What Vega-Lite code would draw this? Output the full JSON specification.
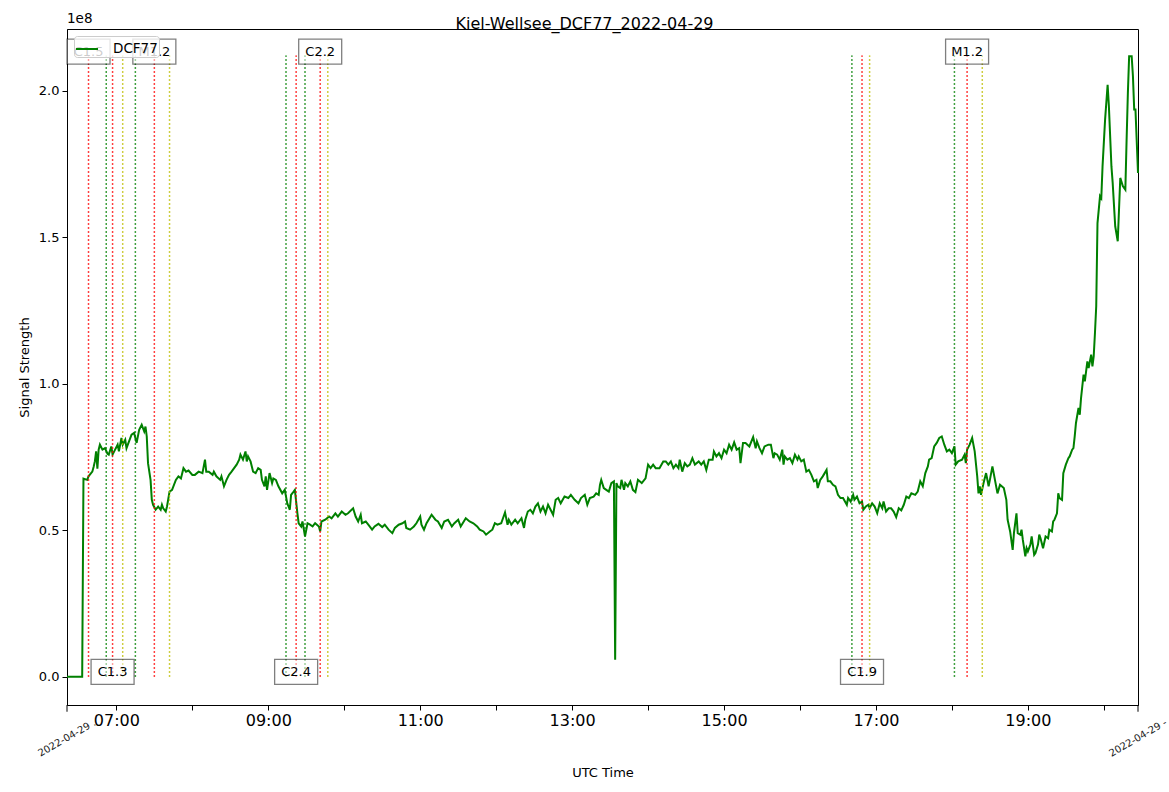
{
  "$schema": "https://vega.github.io/schema/vega-lite/v6.json",
  "width": 1071,
  "height": 676,
  "autosize": "none",
  "padding": {"left": 67, "top": 29, "right": 31, "bottom": 87},
  "background": "white",
  "config": {
    "font": "DejaVu Sans",
    "view": {"stroke": "black", "strokeWidth": 1},
    "axis": {"domainColor": "black", "tickColor": "black", "labelColor": "black", "titleColor": "black", "grid": false, "titleFontWeight": "normal"}
  },
  "title": {"text": "Kiel-Wellsee_DCF77_2022-04-29", "fontSize": 16, "fontWeight": "normal", "anchor": "middle", "offset": -20, "dx": -18, "color": "black"},
  "datasets": {
    "signal": [
      {"t": "06:21", "v": 0}, {"t": "06:33", "v": 0}, {"t": "06:34", "v": 0.676}, {"t": "06:37", "v": 0.672},
      {"t": "06:38", "v": 0.684}, {"t": "06:41", "v": 0.70}, {"t": "06:42", "v": 0.716}, {"t": "06:43", "v": 0.735},
      {"t": "06:44", "v": 0.769}, {"t": "06:45", "v": 0.71}, {"t": "06:46", "v": 0.775}, {"t": "06:47", "v": 0.792},
      {"t": "06:49", "v": 0.775}, {"t": "06:51", "v": 0.78}, {"t": "06:53", "v": 0.761}, {"t": "06:54", "v": 0.758},
      {"t": "06:56", "v": 0.786}, {"t": "06:57", "v": 0.758}, {"t": "06:59", "v": 0.775}, {"t": "07:01", "v": 0.792},
      {"t": "07:02", "v": 0.769}, {"t": "07:04", "v": 0.815}, {"t": "07:05", "v": 0.792}, {"t": "07:07", "v": 0.809},
      {"t": "07:08", "v": 0.78}, {"t": "07:10", "v": 0.803}, {"t": "07:12", "v": 0.826}, {"t": "07:14", "v": 0.832},
      {"t": "07:16", "v": 0.798}, {"t": "07:18", "v": 0.843}, {"t": "07:20", "v": 0.86}, {"t": "07:22", "v": 0.837},
      {"t": "07:23", "v": 0.854}, {"t": "07:24", "v": 0.82}, {"t": "07:25", "v": 0.729}, {"t": "07:27", "v": 0.672},
      {"t": "07:28", "v": 0.604}, {"t": "07:29", "v": 0.587}, {"t": "07:31", "v": 0.57}, {"t": "07:33", "v": 0.581},
      {"t": "07:35", "v": 0.57}, {"t": "07:36", "v": 0.587}, {"t": "07:37", "v": 0.575}, {"t": "07:39", "v": 0.564},
      {"t": "07:40", "v": 0.581}, {"t": "07:42", "v": 0.632}, {"t": "07:44", "v": 0.638}, {"t": "07:47", "v": 0.672},
      {"t": "07:49", "v": 0.684}, {"t": "07:51", "v": 0.677}, {"t": "07:53", "v": 0.712}, {"t": "07:55", "v": 0.70},
      {"t": "07:57", "v": 0.704}, {"t": "08:00", "v": 0.689}, {"t": "08:02", "v": 0.689}, {"t": "08:05", "v": 0.70},
      {"t": "08:08", "v": 0.695}, {"t": "08:10", "v": 0.741}, {"t": "08:11", "v": 0.70}, {"t": "08:13", "v": 0.70},
      {"t": "08:16", "v": 0.689}, {"t": "08:17", "v": 0.70}, {"t": "08:19", "v": 0.684}, {"t": "08:22", "v": 0.672},
      {"t": "08:23", "v": 0.684}, {"t": "08:25", "v": 0.65}, {"t": "08:27", "v": 0.672}, {"t": "08:29", "v": 0.689},
      {"t": "08:31", "v": 0.70}, {"t": "08:33", "v": 0.712}, {"t": "08:35", "v": 0.724}, {"t": "08:37", "v": 0.741},
      {"t": "08:38", "v": 0.758}, {"t": "08:40", "v": 0.741}, {"t": "08:42", "v": 0.769}, {"t": "08:43", "v": 0.735},
      {"t": "08:44", "v": 0.752}, {"t": "08:46", "v": 0.735}, {"t": "08:48", "v": 0.70}, {"t": "08:50", "v": 0.695},
      {"t": "08:52", "v": 0.712}, {"t": "08:54", "v": 0.706}, {"t": "08:55", "v": 0.672}, {"t": "08:57", "v": 0.65},
      {"t": "08:58", "v": 0.684}, {"t": "08:59", "v": 0.638}, {"t": "09:01", "v": 0.695}, {"t": "09:03", "v": 0.661},
      {"t": "09:04", "v": 0.677}, {"t": "09:06", "v": 0.672}, {"t": "09:08", "v": 0.65}, {"t": "09:11", "v": 0.626},
      {"t": "09:13", "v": 0.638}, {"t": "09:15", "v": 0.592}, {"t": "09:17", "v": 0.57}, {"t": "09:18", "v": 0.621},
      {"t": "09:20", "v": 0.632}, {"t": "09:21", "v": 0.638}, {"t": "09:23", "v": 0.558}, {"t": "09:24", "v": 0.524},
      {"t": "09:26", "v": 0.513}, {"t": "09:27", "v": 0.53}, {"t": "09:29", "v": 0.479}, {"t": "09:31", "v": 0.524},
      {"t": "09:33", "v": 0.519}, {"t": "09:35", "v": 0.513}, {"t": "09:37", "v": 0.524}, {"t": "09:40", "v": 0.513},
      {"t": "09:41", "v": 0.496}, {"t": "09:42", "v": 0.53}, {"t": "09:45", "v": 0.536}, {"t": "09:48", "v": 0.547},
      {"t": "09:50", "v": 0.541}, {"t": "09:53", "v": 0.558}, {"t": "09:55", "v": 0.547}, {"t": "09:58", "v": 0.564},
      {"t": "10:01", "v": 0.553}, {"t": "10:03", "v": 0.558}, {"t": "10:07", "v": 0.575}, {"t": "10:09", "v": 0.547},
      {"t": "10:11", "v": 0.53}, {"t": "10:13", "v": 0.553}, {"t": "10:14", "v": 0.524}, {"t": "10:17", "v": 0.53},
      {"t": "10:19", "v": 0.519}, {"t": "10:22", "v": 0.502}, {"t": "10:24", "v": 0.513}, {"t": "10:27", "v": 0.522},
      {"t": "10:30", "v": 0.511}, {"t": "10:32", "v": 0.519}, {"t": "10:35", "v": 0.502}, {"t": "10:38", "v": 0.49},
      {"t": "10:40", "v": 0.508}, {"t": "10:43", "v": 0.519}, {"t": "10:46", "v": 0.524}, {"t": "10:48", "v": 0.53},
      {"t": "10:49", "v": 0.508}, {"t": "10:52", "v": 0.502}, {"t": "10:55", "v": 0.513}, {"t": "10:57", "v": 0.524},
      {"t": "11:00", "v": 0.547}, {"t": "11:01", "v": 0.519}, {"t": "11:03", "v": 0.502}, {"t": "11:05", "v": 0.524},
      {"t": "11:09", "v": 0.553}, {"t": "11:12", "v": 0.536}, {"t": "11:14", "v": 0.53}, {"t": "11:17", "v": 0.508},
      {"t": "11:19", "v": 0.53}, {"t": "11:22", "v": 0.536}, {"t": "11:25", "v": 0.513}, {"t": "11:27", "v": 0.524},
      {"t": "11:30", "v": 0.536}, {"t": "11:32", "v": 0.513}, {"t": "11:36", "v": 0.541}, {"t": "11:39", "v": 0.53},
      {"t": "11:42", "v": 0.524}, {"t": "11:45", "v": 0.513}, {"t": "11:47", "v": 0.502}, {"t": "11:50", "v": 0.496},
      {"t": "11:52", "v": 0.485}, {"t": "11:55", "v": 0.496}, {"t": "11:57", "v": 0.502}, {"t": "11:59", "v": 0.524},
      {"t": "12:01", "v": 0.519}, {"t": "12:04", "v": 0.524}, {"t": "12:07", "v": 0.561}, {"t": "12:09", "v": 0.519},
      {"t": "12:10", "v": 0.536}, {"t": "12:12", "v": 0.519}, {"t": "12:15", "v": 0.536}, {"t": "12:17", "v": 0.524},
      {"t": "12:20", "v": 0.541}, {"t": "12:22", "v": 0.508}, {"t": "12:23", "v": 0.536}, {"t": "12:25", "v": 0.564},
      {"t": "12:27", "v": 0.57}, {"t": "12:29", "v": 0.558}, {"t": "12:31", "v": 0.581}, {"t": "12:33", "v": 0.592},
      {"t": "12:35", "v": 0.564}, {"t": "12:37", "v": 0.581}, {"t": "12:39", "v": 0.558}, {"t": "12:41", "v": 0.587},
      {"t": "12:43", "v": 0.57}, {"t": "12:45", "v": 0.553}, {"t": "12:47", "v": 0.604}, {"t": "12:49", "v": 0.61},
      {"t": "12:51", "v": 0.592}, {"t": "12:54", "v": 0.615}, {"t": "12:57", "v": 0.61}, {"t": "12:59", "v": 0.621},
      {"t": "13:02", "v": 0.604}, {"t": "13:05", "v": 0.592}, {"t": "13:07", "v": 0.61}, {"t": "13:10", "v": 0.621},
      {"t": "13:12", "v": 0.587}, {"t": "13:14", "v": 0.61}, {"t": "13:17", "v": 0.615}, {"t": "13:19", "v": 0.626},
      {"t": "13:21", "v": 0.621}, {"t": "13:22", "v": 0.655}, {"t": "13:23", "v": 0.672}, {"t": "13:25", "v": 0.644},
      {"t": "13:27", "v": 0.638}, {"t": "13:29", "v": 0.632}, {"t": "13:31", "v": 0.661}, {"t": "13:33", "v": 0.667},
      {"t": "13:34", "v": 0.058}, {"t": "13:35", "v": 0.661}, {"t": "13:36", "v": 0.65}, {"t": "13:38", "v": 0.644},
      {"t": "13:39", "v": 0.672}, {"t": "13:41", "v": 0.638}, {"t": "13:42", "v": 0.661}, {"t": "13:44", "v": 0.65},
      {"t": "13:46", "v": 0.667}, {"t": "13:48", "v": 0.638}, {"t": "13:50", "v": 0.63}, {"t": "13:52", "v": 0.672},
      {"t": "13:55", "v": 0.661}, {"t": "13:58", "v": 0.677}, {"t": "14:00", "v": 0.724}, {"t": "14:02", "v": 0.712},
      {"t": "14:04", "v": 0.724}, {"t": "14:06", "v": 0.712}, {"t": "14:09", "v": 0.712}, {"t": "14:12", "v": 0.735},
      {"t": "14:14", "v": 0.735}, {"t": "14:16", "v": 0.724}, {"t": "14:18", "v": 0.735}, {"t": "14:20", "v": 0.712},
      {"t": "14:22", "v": 0.724}, {"t": "14:24", "v": 0.712}, {"t": "14:25", "v": 0.741}, {"t": "14:27", "v": 0.70},
      {"t": "14:29", "v": 0.729}, {"t": "14:31", "v": 0.718}, {"t": "14:33", "v": 0.724}, {"t": "14:35", "v": 0.746},
      {"t": "14:37", "v": 0.724}, {"t": "14:40", "v": 0.735}, {"t": "14:42", "v": 0.724}, {"t": "14:44", "v": 0.735},
      {"t": "14:46", "v": 0.706}, {"t": "14:48", "v": 0.741}, {"t": "14:51", "v": 0.741}, {"t": "14:52", "v": 0.769},
      {"t": "14:54", "v": 0.752}, {"t": "14:56", "v": 0.763}, {"t": "14:58", "v": 0.746}, {"t": "15:00", "v": 0.775},
      {"t": "15:02", "v": 0.763}, {"t": "15:04", "v": 0.792}, {"t": "15:06", "v": 0.775}, {"t": "15:08", "v": 0.80},
      {"t": "15:10", "v": 0.775}, {"t": "15:12", "v": 0.78}, {"t": "15:13", "v": 0.729}, {"t": "15:15", "v": 0.798},
      {"t": "15:17", "v": 0.798}, {"t": "15:20", "v": 0.786}, {"t": "15:23", "v": 0.818}, {"t": "15:25", "v": 0.78},
      {"t": "15:26", "v": 0.803}, {"t": "15:28", "v": 0.78}, {"t": "15:30", "v": 0.763}, {"t": "15:32", "v": 0.786},
      {"t": "15:35", "v": 0.792}, {"t": "15:37", "v": 0.792}, {"t": "15:39", "v": 0.746}, {"t": "15:40", "v": 0.763},
      {"t": "15:42", "v": 0.758}, {"t": "15:44", "v": 0.741}, {"t": "15:46", "v": 0.775}, {"t": "15:47", "v": 0.724},
      {"t": "15:48", "v": 0.752}, {"t": "15:50", "v": 0.741}, {"t": "15:52", "v": 0.746}, {"t": "15:54", "v": 0.729},
      {"t": "15:56", "v": 0.758}, {"t": "15:58", "v": 0.741}, {"t": "15:59", "v": 0.752}, {"t": "16:01", "v": 0.735},
      {"t": "16:03", "v": 0.741}, {"t": "16:05", "v": 0.70}, {"t": "16:07", "v": 0.706}, {"t": "16:09", "v": 0.689},
      {"t": "16:11", "v": 0.667}, {"t": "16:13", "v": 0.672}, {"t": "16:14", "v": 0.644}, {"t": "16:16", "v": 0.672},
      {"t": "16:18", "v": 0.684}, {"t": "16:21", "v": 0.706}, {"t": "16:22", "v": 0.667}, {"t": "16:24", "v": 0.667},
      {"t": "16:26", "v": 0.655}, {"t": "16:28", "v": 0.65}, {"t": "16:30", "v": 0.621}, {"t": "16:32", "v": 0.61},
      {"t": "16:34", "v": 0.61}, {"t": "16:37", "v": 0.587}, {"t": "16:38", "v": 0.61}, {"t": "16:40", "v": 0.598},
      {"t": "16:42", "v": 0.621}, {"t": "16:43", "v": 0.604}, {"t": "16:45", "v": 0.615}, {"t": "16:47", "v": 0.592},
      {"t": "16:49", "v": 0.598}, {"t": "16:50", "v": 0.57}, {"t": "16:52", "v": 0.581}, {"t": "16:54", "v": 0.587},
      {"t": "16:55", "v": 0.575}, {"t": "16:57", "v": 0.592}, {"t": "16:59", "v": 0.581}, {"t": "17:01", "v": 0.558},
      {"t": "17:03", "v": 0.592}, {"t": "17:05", "v": 0.575}, {"t": "17:06", "v": 0.598}, {"t": "17:08", "v": 0.564},
      {"t": "17:10", "v": 0.575}, {"t": "17:12", "v": 0.575}, {"t": "17:14", "v": 0.564}, {"t": "17:16", "v": 0.545},
      {"t": "17:18", "v": 0.575}, {"t": "17:20", "v": 0.568}, {"t": "17:22", "v": 0.587}, {"t": "17:24", "v": 0.615},
      {"t": "17:26", "v": 0.61}, {"t": "17:28", "v": 0.626}, {"t": "17:31", "v": 0.621}, {"t": "17:33", "v": 0.632},
      {"t": "17:35", "v": 0.667}, {"t": "17:37", "v": 0.65}, {"t": "17:39", "v": 0.695}, {"t": "17:41", "v": 0.718},
      {"t": "17:42", "v": 0.741}, {"t": "17:44", "v": 0.746}, {"t": "17:46", "v": 0.786}, {"t": "17:48", "v": 0.798},
      {"t": "17:50", "v": 0.815}, {"t": "17:52", "v": 0.82}, {"t": "17:54", "v": 0.792}, {"t": "17:56", "v": 0.769},
      {"t": "17:58", "v": 0.775}, {"t": "18:00", "v": 0.763}, {"t": "18:02", "v": 0.786}, {"t": "18:03", "v": 0.724},
      {"t": "18:05", "v": 0.735}, {"t": "18:08", "v": 0.741}, {"t": "18:10", "v": 0.758}, {"t": "18:11", "v": 0.729},
      {"t": "18:12", "v": 0.775}, {"t": "18:14", "v": 0.792}, {"t": "18:16", "v": 0.815}, {"t": "18:18", "v": 0.769},
      {"t": "18:20", "v": 0.684}, {"t": "18:21", "v": 0.626}, {"t": "18:22", "v": 0.65}, {"t": "18:23", "v": 0.621},
      {"t": "18:25", "v": 0.661}, {"t": "18:27", "v": 0.695}, {"t": "18:29", "v": 0.65}, {"t": "18:30", "v": 0.672},
      {"t": "18:32", "v": 0.718}, {"t": "18:34", "v": 0.672}, {"t": "18:36", "v": 0.626}, {"t": "18:38", "v": 0.655},
      {"t": "18:41", "v": 0.644}, {"t": "18:43", "v": 0.604}, {"t": "18:44", "v": 0.536}, {"t": "18:46", "v": 0.496},
      {"t": "18:48", "v": 0.433}, {"t": "18:49", "v": 0.49}, {"t": "18:51", "v": 0.558}, {"t": "18:52", "v": 0.49},
      {"t": "18:54", "v": 0.485}, {"t": "18:55", "v": 0.502}, {"t": "18:56", "v": 0.468}, {"t": "18:58", "v": 0.411},
      {"t": "18:59", "v": 0.439}, {"t": "19:00", "v": 0.428}, {"t": "19:02", "v": 0.451}, {"t": "19:03", "v": 0.479},
      {"t": "19:05", "v": 0.416}, {"t": "19:06", "v": 0.422}, {"t": "19:08", "v": 0.451}, {"t": "19:09", "v": 0.485},
      {"t": "19:10", "v": 0.473}, {"t": "19:12", "v": 0.439}, {"t": "19:14", "v": 0.479}, {"t": "19:16", "v": 0.473},
      {"t": "19:17", "v": 0.502}, {"t": "19:19", "v": 0.496}, {"t": "19:20", "v": 0.53}, {"t": "19:21", "v": 0.536},
      {"t": "19:23", "v": 0.558}, {"t": "19:24", "v": 0.626}, {"t": "19:25", "v": 0.61}, {"t": "19:27", "v": 0.604},
      {"t": "19:28", "v": 0.695}, {"t": "19:30", "v": 0.724}, {"t": "19:32", "v": 0.746}, {"t": "19:33", "v": 0.752},
      {"t": "19:35", "v": 0.775}, {"t": "19:36", "v": 0.78}, {"t": "19:37", "v": 0.82}, {"t": "19:38", "v": 0.866},
      {"t": "19:40", "v": 0.917}, {"t": "19:41", "v": 0.894}, {"t": "19:42", "v": 0.951}, {"t": "19:44", "v": 1.031},
      {"t": "19:45", "v": 1.008}, {"t": "19:47", "v": 1.076}, {"t": "19:48", "v": 1.053}, {"t": "19:50", "v": 1.099},
      {"t": "19:51", "v": 1.059}, {"t": "19:52", "v": 1.093}, {"t": "19:53", "v": 1.173}, {"t": "19:54", "v": 1.264},
      {"t": "19:55", "v": 1.548}, {"t": "19:57", "v": 1.64}, {"t": "19:58", "v": 1.633}, {"t": "19:59", "v": 1.742},
      {"t": "20:01", "v": 1.901}, {"t": "20:03", "v": 2.02}, {"t": "20:04", "v": 1.947}, {"t": "20:06", "v": 1.742},
      {"t": "20:07", "v": 1.685}, {"t": "20:09", "v": 1.537}, {"t": "20:11", "v": 1.486}, {"t": "20:12", "v": 1.594},
      {"t": "20:13", "v": 1.702}, {"t": "20:15", "v": 1.674}, {"t": "20:17", "v": 1.662}, {"t": "20:18", "v": 1.833},
      {"t": "20:19", "v": 1.992}, {"t": "20:20", "v": 2.117}, {"t": "20:22", "v": 2.117}, {"t": "20:23", "v": 2.049},
      {"t": "20:24", "v": 1.935}, {"t": "20:25", "v": 1.935}, {"t": "20:27", "v": 1.719}
    ],
    "flares": [
      {"cls": "C1.5", "kind": "peak", "t": "06:38"},
      {"cls": "C1.3", "kind": "start", "t": "06:52"},
      {"cls": "C1.3", "kind": "peak", "t": "06:57"},
      {"cls": "C1.3", "kind": "end", "t": "07:05"},
      {"cls": "M1.2", "kind": "start", "t": "07:15"},
      {"cls": "M1.2", "kind": "peak", "t": "07:30"},
      {"cls": "M1.2", "kind": "end", "t": "07:42"},
      {"cls": "C2.4", "kind": "start", "t": "09:14"},
      {"cls": "C2.4", "kind": "peak", "t": "09:22"},
      {"cls": "C2.2", "kind": "start", "t": "09:29"},
      {"cls": "C2.2", "kind": "peak", "t": "09:41"},
      {"cls": "C2.2", "kind": "end", "t": "09:47"},
      {"cls": "C1.9", "kind": "start", "t": "16:41"},
      {"cls": "C1.9", "kind": "peak", "t": "16:49"},
      {"cls": "C1.9", "kind": "end", "t": "16:55"},
      {"cls": "M1.2", "kind": "start", "t": "18:02"},
      {"cls": "M1.2", "kind": "peak", "t": "18:12"},
      {"cls": "M1.2", "kind": "end", "t": "18:24"}
    ],
    "note": [{"text": "1e8", "t": "06:21"}],
    "edges": [{"text": "2022-04-29 .", "t": "06:21"}, {"text": "2022-04-29 -", "t": "20:27"}]
  },
  "layer": [
    {
      "data": {"name": "signal", "format": {"parse": {"t": "utc:'%H:%M'"}}},
      "mark": {"type": "line", "strokeWidth": 2},
      "encoding": {
        "x": {
          "field": "t", "type": "temporal",
          "scale": {"type": "utc", "nice": false},
          "axis": {
            "orient": "bottom", "title": "UTC Time", "titleFontSize": 13, "titlePadding": 38,
            "labelFontSize": 16, "labelPadding": 2, "tickSize": 5,
            "tickCount": 14,
            "labelExpr": "utchours(datum.value) % 2 == 1 ? utcFormat(datum.value, '%H:%M') : ''",
            "labelFlush": false, "labelOverlap": false
          }
        },
        "y": {
          "field": "v", "type": "quantitative",
          "scale": {"domain": [-0.096, 2.21], "nice": false, "zero": false},
          "axis": {
            "title": "Signal Strength", "titleFontSize": 13, "titlePadding": 7,
            "values": [0, 0.5, 1, 1.5, 2], "format": ".1f",
            "labelFontSize": 13, "tickSize": 5, "labelPadding": 3
          }
        },
        "color": {
          "datum": "DCF77",
          "scale": {"range": ["#008000"]},
          "legend": {
            "title": null, "orient": "top-left", "offset": 7,
            "symbolType": "stroke", "symbolSize": 484, "symbolStrokeWidth": 2,
            "labelFontSize": 13.5, "labelOffset": 14, "padding": 1,
            "fillColor": "rgba(255,255,255,0.8)", "strokeColor": "#cccccc", "cornerRadius": 3
          }
        }
      }
    },
    {
      "data": {"name": "flares", "format": {"parse": {"t": "utc:'%H:%M'"}}},
      "layer": [
        {
          "mark": {"type": "rule", "strokeWidth": 1.5, "strokeDash": [1.5, 2.5]},
          "encoding": {
            "x": {"field": "t", "type": "temporal"},
            "y": {"datum": 0},
            "y2": {"datum": 2.12},
            "color": {
              "condition": [
                {"test": "datum.kind == 'start'", "value": "#008000"},
                {"test": "datum.kind == 'peak'", "value": "#ff0000"}
              ],
              "value": "#bfbf00"
            }
          }
        },
        {
          "transform": [
            {"filter": "datum.kind == 'peak' && datum.cls != 'C1.3' && datum.cls != 'C2.4' && datum.cls != 'C1.9'"}
          ],
          "mark": {"type": "point", "shape": "M-1,-0.58L1,-0.58L1,0.58L-1,0.58Z", "size": 1849, "filled": true, "fill": "white", "fillOpacity": 0.5, "stroke": "black", "strokeOpacity": 0.5, "strokeWidth": 1.3, "opacity": 1},
          "encoding": {
            "x": {"field": "t", "type": "temporal"},
            "y": {"datum": 2.133}
          }
        },
        {
          "transform": [
            {"filter": "datum.kind == 'peak' && datum.cls != 'C1.3' && datum.cls != 'C2.4' && datum.cls != 'C1.9'"}
          ],
          "mark": {"type": "text", "fontSize": 13, "color": "black", "align": "center", "baseline": "middle"},
          "encoding": {
            "x": {"field": "t", "type": "temporal"},
            "y": {"datum": 2.133},
            "text": {"field": "cls"}
          }
        },
        {
          "transform": [
            {"filter": "datum.kind == 'peak' && (datum.cls == 'C1.3' || datum.cls == 'C2.4' || datum.cls == 'C1.9')"}
          ],
          "mark": {"type": "point", "shape": "M-1,-0.58L1,-0.58L1,0.58L-1,0.58Z", "size": 1849, "filled": true, "fill": "white", "fillOpacity": 0.5, "stroke": "black", "strokeOpacity": 0.5, "strokeWidth": 1.3, "opacity": 1},
          "encoding": {
            "x": {"field": "t", "type": "temporal"},
            "y": {"datum": 0.017}
          }
        },
        {
          "transform": [
            {"filter": "datum.kind == 'peak' && (datum.cls == 'C1.3' || datum.cls == 'C2.4' || datum.cls == 'C1.9')"}
          ],
          "mark": {"type": "text", "fontSize": 13, "color": "black", "align": "center", "baseline": "middle"},
          "encoding": {
            "x": {"field": "t", "type": "temporal"},
            "y": {"datum": 0.017},
            "text": {"field": "cls"}
          }
        }
      ]
    },
    {
      "data": {"name": "note", "format": {"parse": {"t": "utc:'%H:%M'"}}},
      "mark": {"type": "text", "fontSize": 13.5, "align": "left", "baseline": "middle", "dy": -10, "color": "black"},
      "encoding": {
        "x": {"field": "t", "type": "temporal"},
        "y": {"datum": 2.21},
        "text": {"field": "text"}
      }
    },
    {
      "data": {"name": "edges", "format": {"parse": {"t": "utc:'%H:%M'"}}},
      "layer": [
        {
          "mark": {"type": "rule", "color": "black", "strokeWidth": 1},
          "encoding": {
            "x": {"field": "t", "type": "temporal"},
            "y": {"datum": -0.096},
            "y2": {"datum": -0.119}
          }
        },
        {
          "mark": {"type": "text", "fontSize": 10, "angle": -30, "align": "center", "baseline": "middle", "color": "#222222"},
          "encoding": {
            "x": {"field": "t", "type": "temporal"},
            "y": {"datum": -0.209},
            "text": {"field": "text"}
          }
        }
      ]
    }
  ]
}
